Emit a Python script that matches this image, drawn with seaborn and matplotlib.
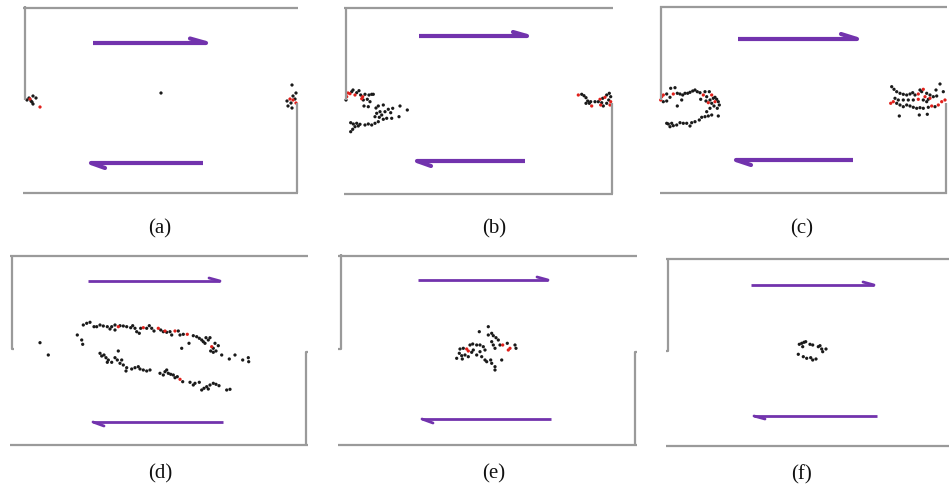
import matplotlib
matplotlib.use("Agg")
import matplotlib.pyplot as plt
import pandas as pd
import seaborn as sns

sns.set_theme(style="white")
plt.rcParams["font.family"] = ["Liberation Serif", "DejaVu Serif"]

# Fish positions per snapshot, in tank coordinates (x to the right, y downwards).
a_black = [(27, 100), (29, 98), (33, 96), (36, 98), (32, 102), (33, 104), (31, 101),
           (161, 93), (292, 85), (296, 93), (293, 96), (287, 101), (291, 103),
           (288, 106), (292, 108), (295, 99)]
a_red = [(30, 99), (40, 107), (290, 99), (296, 103), (293, 100)]

b_black = [(26, 100), (31.7, 91.7), (33, 90), (36.7, 92.7), (39, 90.7), (40.7, 95),
           (45, 94.3), (47.3, 99.3), (49, 95), (51.7, 94.3), (53.3, 94.3), (50, 101.7),
           (43.3, 100), (44, 106), (48.3, 106.7), (56, 108), (58.3, 106), (63.3, 105),
           (60, 111.7), (56.7, 113.3), (61.7, 115), (65, 111.7), (68.3, 109.3),
           (70.7, 112.7), (72.7, 108.3), (80, 106), (79, 116.7), (87.3, 110),
           (66.7, 118.3), (71.7, 118.3), (63.3, 119.3), (58.3, 121.7), (55, 123.3),
           (51.7, 125), (48.3, 124), (45, 125), (40, 124.3), (36.7, 123.3), (33.3, 124),
           (30.7, 122.7), (35, 126.7), (32.7, 129.3), (30.7, 131.7), (38.3, 126),
           (55, 116.7), (59.3, 117.3), (261.7, 94.3), (264, 95.7), (266, 97.7),
           (267.7, 101), (266, 103.3), (269.3, 103.3), (270.7, 101.7), (275, 101.7),
           (278.3, 101.7), (282.7, 98.3), (286.7, 95), (289.3, 93.3), (290.7, 96.7),
           (288.7, 100), (286.7, 103.3), (283.3, 106), (281.7, 102.7)]
b_red = [(26.7, 96.7), (28, 93), (35, 95), (42.7, 96.7), (30, 93.7), (41.7, 98.7),
         (258.3, 95), (271.7, 106), (280, 99.3), (285, 97.3), (280.7, 105), (290, 105),
         (290.7, 101.7)]

c_black = [(26.7, 94), (30, 97.3), (26.7, 101), (30.7, 88.3), (35, 87.7), (37.3, 93.3),
           (40, 94), (42.7, 95), (45, 93.3), (47.7, 93.3), (50, 92.3), (52.7, 91),
           (55, 90), (57.3, 91.7), (60, 92.7), (66.7, 96.7), (65, 91.7), (69.3, 91.7),
           (73.3, 98.3), (75, 97.3), (76.7, 99.3), (70, 100), (66, 101), (71.7, 103.3),
           (78.3, 101.7), (79.3, 105), (74, 106), (77.3, 108.3), (70, 108.3),
           (66.7, 111.7), (78.3, 116), (71.7, 115), (68.3, 116), (65, 116.7),
           (61.7, 117.3), (59.3, 120), (55, 121.7), (51.7, 122.7), (50, 126),
           (46.7, 123.3), (43.3, 123.3), (40, 122.7), (36.7, 125), (33.3, 125.7),
           (30, 126.7), (28.3, 124), (26.7, 123.3), (31.7, 123.3), (41.7, 100),
           (37.3, 106), (23.3, 101.7), (60.7, 99.3),
           (251.7, 86.7), (254, 89.3), (256.7, 91.7), (260, 93.3), (263.3, 94.3),
           (266.7, 95), (270, 94), (272.7, 92.7), (275, 95), (281.7, 91.7), (280, 90),
           (286.7, 93.3), (290, 95), (293.3, 96.7), (296.7, 96), (300, 84), (296, 90),
           (303.3, 91.7), (295, 106.7), (288.3, 107.3), (283.3, 108.3), (280, 107.7),
           (276.7, 108.3), (273.3, 107.3), (270, 106), (266.7, 105), (263.3, 106.7),
           (260, 105), (256.7, 103.3), (255, 98.3), (258.3, 100), (263.3, 100),
           (268.3, 100), (273.3, 100), (283.3, 100), (286.7, 101.7), (259.3, 116),
           (279.3, 115), (287.3, 114.3), (288.3, 99.3)]
c_red = [(20.7, 100), (21.7, 96.7), (23.3, 95), (33.3, 94), (63.3, 95), (71.7, 95),
         (68.3, 102.7), (75, 101.7), (278.3, 94), (283.3, 89.3), (305, 100),
         (301.7, 101.7), (298.3, 105), (291.7, 106), (253.3, 101.7), (250.7, 103.3),
         (278.3, 99.3), (290, 98.3), (285, 96.7)]

d_black = [(40, 97.7), (48.3, 110), (77.3, 90), (81.7, 95), (82.7, 99.3), (83.3, 80),
           (86.7, 78.3), (90, 77.3), (94, 81.7), (96.7, 81.7), (100, 80), (103.3, 81),
           (107.3, 81.7), (110, 84), (111.7, 81.7), (115, 80), (115, 85), (120, 80.7),
           (123.3, 81), (126.7, 81.7), (130.7, 82.7), (132.7, 80.7), (135, 83.3),
           (136.7, 86.7), (139.3, 88.3), (140.7, 83.3), (146.7, 83.3), (149.3, 80.7),
           (151.7, 83.3), (154, 86), (160.7, 85), (163.3, 86.7), (166.7, 87.3),
           (170, 86.7), (171.7, 90), (178.3, 86), (180, 90), (181.7, 103.3),
           (183.3, 89.3), (189, 98.3), (193.3, 90.7), (196.7, 91.7), (199.3, 93.3),
           (201.7, 95), (203.3, 96.7), (206, 92.7), (208.3, 95), (210, 92.7),
           (205, 98.3), (213.3, 103.3), (210.7, 106), (213.3, 107.3), (215, 98.3),
           (218.3, 100.7), (216, 106), (221.7, 110), (229.3, 114), (235, 110),
           (242.7, 115), (248.3, 112.7), (248.7, 116.7),
           (118.3, 106), (100, 108.3), (101.7, 111), (104, 110), (106, 112.7),
           (108.3, 115), (107.3, 117.3), (111.7, 117.3), (115, 112.7), (117.3, 115),
           (120, 118.3), (121.7, 115), (123.3, 120), (126.7, 122.7), (126, 126),
           (131.7, 124), (135, 122.7), (138.3, 121.7), (140, 124), (143.3, 125),
           (146.7, 126), (150, 125), (160, 128.3), (163.3, 130), (165, 126.7),
           (166.7, 125), (168.3, 128.3), (170.7, 129.3), (173.3, 130), (175, 132.7),
           (177.3, 131.7), (182.7, 136.7), (190, 137.3), (193.3, 140), (195, 138.3),
           (199.3, 137.3), (201.7, 145), (204, 143.3), (206.7, 141.7), (208.3, 144),
           (210, 140), (213.3, 138.3), (216, 139.3), (219, 140.7), (226.7, 145),
           (230, 144.3)]
d_red = [(118.3, 81.7), (143.3, 82.7), (158.3, 83.3), (165, 86), (175, 86),
         (187.3, 89.3), (211.7, 101.7), (180, 134.3)]

e_black = [(168.3, 81.7), (159.3, 86.7), (171.7, 88.3), (168.3, 90), (173.3, 90.7),
           (176, 92.7), (178.3, 95), (171.7, 96.7), (173.3, 100), (175, 103.3),
           (180, 100), (187.3, 98.3), (195, 100), (196, 103.3), (181.7, 115),
           (152.7, 99), (156.7, 100), (160, 100), (163.3, 101.7), (165, 105),
           (143.3, 103.3), (140, 104), (139.3, 108.3), (141.7, 110.7), (145, 110),
           (148.3, 111.7), (136.7, 113.3), (142.3, 114), (153.3, 105), (156.7, 110),
           (160, 106.7), (161.7, 111.7), (165, 115), (166.7, 116.7), (170.7, 115),
           (171.7, 118.3), (175, 121.7), (175, 125), (151.7, 107.3), (150, 100)]
e_red = [(182.7, 100), (190, 103.3), (188.3, 105), (146.7, 104), (148.3, 106)]

f_black = [(159.3, 99.3), (161.7, 98.3), (164, 97.3), (165.7, 96.7), (170, 99.3),
           (172.7, 100), (178.3, 101.7), (180, 100.7), (181.7, 104), (182.7, 106.7),
           (186, 104), (162.7, 101.7), (158.3, 109.3), (163.3, 111.7), (166.7, 113.3),
           (170.7, 112.7), (172.7, 115), (176, 114)]
f_red = []

# Tank walls per snapshot: polylines of (x, y) vertices.
a_walls = [[(23, 8), (298, 8)], [(25, 6), (25, 100)], [(297, 103), (297, 193)],
           [(23, 193), (298, 193)]]
b_walls = [[(24, 8), (293, 8)], [(26, 7), (26, 100)], [(292, 103), (292, 194)],
           [(24, 194), (293, 194)]]
c_walls = [[(20, 7), (307, 7)], [(21, 6), (21, 100)], [(306, 103), (306, 194)],
           [(20, 193), (307, 193)]]
d_walls = [[(10, 11), (308, 11)], [(14, 104), (12, 104), (12, 10)],
           [(308, 107), (305.7, 107), (305.7, 200)], [(10, 199.5), (308, 199.5)]]
e_walls = [[(18, 11), (317, 11)], [(18, 104), (21, 104), (21, 9)],
           [(317, 107), (315, 107), (315, 201)], [(18, 200), (317, 200)]]
f_walls = [[(26, 14), (309, 14)], [(26, 106), (28.3, 106), (28.3, 12.7)],
           [(26, 200.5), (309, 200.5)]]

# Flow arrows: shaft start, tip, and the end of the single barb.
a_arrows = [[(93, 43), (206, 43), (190, 38.5)], [(203, 163), (91, 163), (105, 168)]]
b_arrows = [[(99, 36), (207, 36), (193, 32)], [(205, 161), (97, 161), (111, 166)]]
c_arrows = [[(98, 39), (217, 39), (201, 34)], [(213, 160), (96, 160), (111, 165)]]
d_arrows = [[(88, 36), (220, 36), (209, 33)], [(223, 177), (93, 177), (104, 181)]]
e_arrows = [[(98, 35), (228, 35), (217, 32)], [(231, 174), (102, 174), (113, 178)]]
f_arrows = [[(111, 40), (234, 40), (223, 37)], [(237, 171), (114, 171), (125, 174)]]

labels = ["(a)", "(b)", "(c)", "(d)", "(e)", "(f)"]

panels = [
    dict(black=a_black, red=a_red, walls=a_walls, arrows=a_arrows),
    dict(black=b_black, red=b_red, walls=b_walls, arrows=b_arrows),
    dict(black=c_black, red=c_red, walls=c_walls, arrows=c_arrows),
    dict(black=d_black, red=d_red, walls=d_walls, arrows=d_arrows),
    dict(black=e_black, red=e_red, walls=e_walls, arrows=e_arrows),
    dict(black=f_black, red=f_red, walls=f_walls, arrows=f_arrows),
]

# Panel frames in figure pixels: left, top, width, height.
W, H = 949, 490
frames = [(0, 0, 320, 245), (320, 0, 320, 245), (640, 0, 309, 245),
          (0, 245, 320, 245), (320, 245, 320, 245), (640, 245, 309, 245)]
caption_pos = [(160, 229), (174, 229), (162, 229), (160, 229), (174, 229), (162, 230)]
arrow_width = [3.0, 3.0, 3.0, 2.0, 2.0, 2.0]

WALL = "#9a9a9a"
ARROW = "#7233ad"
palette = {"tracked": "#1a1a1a", "flagged": "#e0201b"}

fig = plt.figure(figsize=(W / 100, H / 100), dpi=100)
fig.patch.set_facecolor("white")

for i, (panel, (fx, fy, fw, fh)) in enumerate(zip(panels, frames)):
    ax = fig.add_axes([fx / W, 1 - (fy + fh) / H, fw / W, fh / H])

    for wall in panel["walls"]:
        xs, ys = zip(*wall)
        ax.plot(xs, ys, color=WALL, lw=1.6, solid_capstyle="butt", clip_on=False)

    for start, tip, barb in panel["arrows"]:
        ax.plot([start[0], tip[0]], [start[1], tip[1]], color=ARROW,
                lw=arrow_width[i], solid_capstyle="butt")
        ax.plot([tip[0], barb[0]], [tip[1], barb[1]], color=ARROW,
                lw=arrow_width[i], solid_capstyle="round")

    rows = [(x, y, "tracked") for x, y in panel["black"]] + \
           [(x, y, "flagged") for x, y in panel["red"]]
    df = pd.DataFrame(rows, columns=["x", "y", "kind"])
    sns.scatterplot(data=df, x="x", y="y", hue="kind", palette=palette, s=5.5,
                    linewidth=0, legend=False, ax=ax, clip_on=False)
    ax.set_xlim(0, fw)
    ax.set_ylim(fh, 0)
    ax.set_axis_off()

    cx, cy = caption_pos[i]
    ax.text(cx, cy, labels[i], ha="center", va="center", fontsize=15,
            color="#111111")

fig.savefig("out.png", dpi=100, facecolor="white")
